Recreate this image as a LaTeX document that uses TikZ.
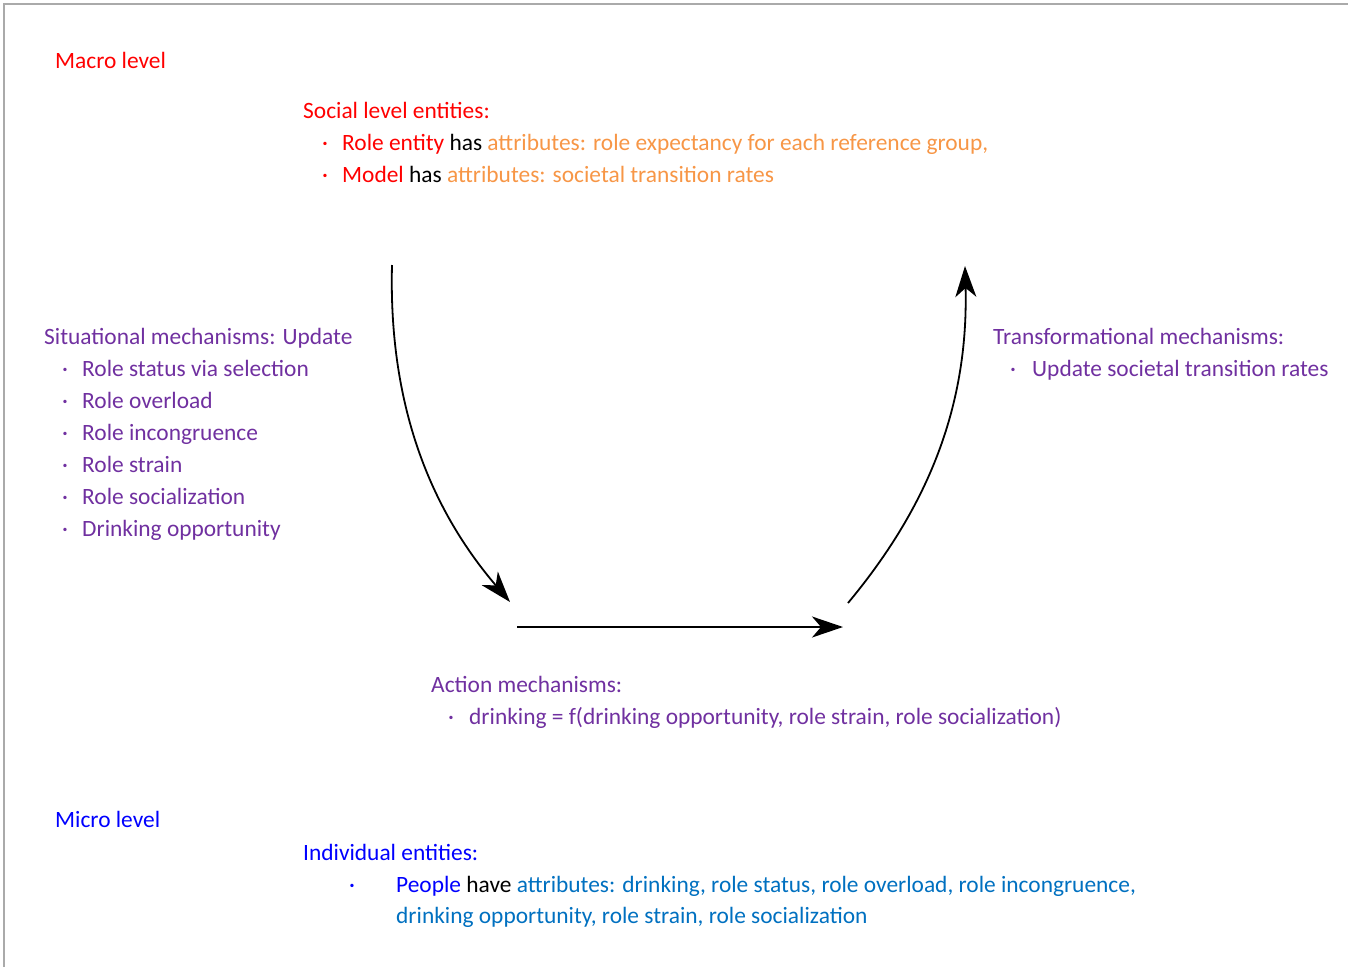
\documentclass[tikz,border=0pt]{standalone}
\usepackage{fontspec}
\setmainfont{Carlito}
\usetikzlibrary{arrows.meta}
\definecolor{macrored}{RGB}{255,0,0}
\definecolor{attrorange}{RGB}{247,150,70}
\definecolor{mechpurple}{RGB}{112,48,160}
\definecolor{microblue}{RGB}{0,0,255}
\definecolor{attrblue}{RGB}{0,112,192}
\definecolor{framegray}{RGB}{170,170,170}
\begin{document}
\begin{tikzpicture}[x=1pt,y=-1pt,
  txt/.style={anchor=base west,inner sep=0pt,font=\fontsize{23.4}{29}\selectfont},
  flow/.style={line width=1.8pt,-{Stealth[length=31pt,width=21pt,inset=9pt]}}]
\useasboundingbox (0,0) rectangle (1355,967);
\draw[framegray,line width=1.2pt] (4,967) -- (4,4) -- (1348,4);

% macro level
\node[txt,text=macrored] (macro) at (55,68) {Macro level};
\node[txt,text=macrored] (social) at (303,118) {Social level entities:};
\node[txt,text=macrored] (sb1) at (322,150) {·};
\node[txt] (s1) at (342,150) {\textcolor{macrored}{Role entity} has \textcolor{attrorange}{attributes: role expectancy for each reference group,}};
\node[txt,text=macrored] (sb2) at (322,182) {·};
\node[txt] (s2) at (342,182) {\textcolor{macrored}{Model} has \textcolor{attrorange}{attributes: societal transition rates}};

% situational mechanisms
\node[txt,text=mechpurple] (sit) at (44,344) {Situational mechanisms: Update};
\foreach \t [count=\i] in {Role status via selection,Role overload,Role incongruence,Role strain,Role socialization,Drinking opportunity}{
  \node[txt,text=mechpurple] (sitb\i) at (62,344+32*\i) {·};
  \node[txt,text=mechpurple] (sit\i) at (82,344+32*\i) {\t};
}

% transformational mechanisms
\node[txt,text=mechpurple] (trans) at (993,344) {Transformational mechanisms:};
\node[txt,text=mechpurple] (transb) at (1010,376) {·};
\node[txt,text=mechpurple] (trans1) at (1032,376) {Update societal transition rates};

% action mechanisms
\node[txt,text=mechpurple] (act) at (431,692) {Action mechanisms:};
\node[txt,text=mechpurple] (actb) at (448,724) {·};
\node[txt,text=mechpurple] (act1) at (469,724) {drinking = f(drinking opportunity, role strain, role socialization)};

% micro level
\node[txt,text=microblue] (micro) at (55,827) {Micro level};
\node[txt,text=microblue] (indiv) at (303,860) {Individual entities:};
\node[txt,text=microblue] (ib) at (349,892) {·};
\node[txt] (i1) at (396,892) {\textcolor{microblue}{People} have \textcolor{attrblue}{attributes: drinking, role status, role overload, role incongruence,}};
\node[txt,text=attrblue] (i2) at (396,923) {drinking opportunity, role strain, role socialization};

% the three mechanism arrows
\coordinate (a0) at (392,265);
\coordinate (a1) at (510,602);
\coordinate (b0) at (517,627);
\coordinate (b1) at (843,627);
\coordinate (c0) at (848,603);
\coordinate (c1) at (965,266);
\draw[flow] (a0) .. controls (388,420) and (440,520) .. (a1);
\draw[flow] (b0) -- (b1);
\draw[flow] (c0) .. controls (917,520) and (969,420) .. (c1);
\end{tikzpicture}
\end{document}
